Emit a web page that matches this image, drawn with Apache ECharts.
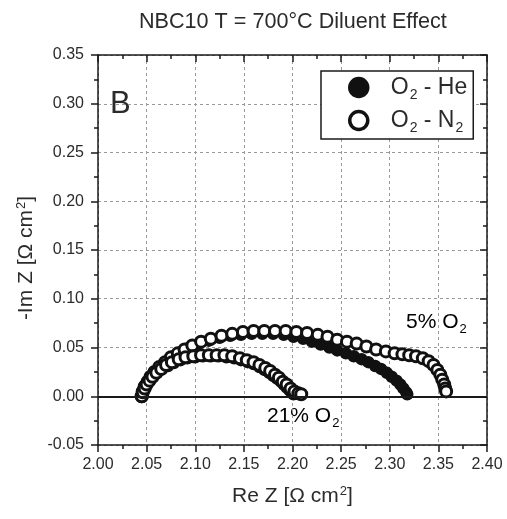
<!DOCTYPE html>
<html>
<head>
<meta charset="utf-8">
<script src="https://cdn.jsdelivr.net/npm/echarts@6/dist/echarts.min.js"></script>
<style>
  html, body { margin: 0; padding: 0; background: #fff; }
  #chart { width: 507px; height: 519px; }
</style>
</head>
<body>
<div id="chart"></div>
<script>
const FONT = '"Liberation Sans", Arial, Helvetica, sans-serif';
const INK = '#1a1a1a';
const TEXT = '#2b2b2b';

// Axis ranges (Ω cm²)
const reRange = { min: 2.0, max: 2.4, step: 0.05 };
const imRange = { min: -0.05, max: 0.35, step: 0.05 };

// Nyquist arcs, NBC10 at 700 °C: real part and negative imaginary part
// O2 diluted in He, 5% O2
const reHe5 = [2.045, 2.046, 2.048, 2.051, 2.055, 2.059, 2.064, 2.070, 2.077, 2.085,
  2.094, 2.104, 2.114, 2.125, 2.136, 2.147, 2.158, 2.169, 2.180, 2.191,
  2.201, 2.211, 2.220, 2.229, 2.238, 2.246, 2.255, 2.263, 2.271, 2.278,
  2.285, 2.291, 2.297, 2.302, 2.307, 2.311, 2.314, 2.317, 2.318];
const imHe5 = [0.000, 0.005, 0.010, 0.015, 0.020, 0.025, 0.030, 0.035, 0.040, 0.045,
  0.050, 0.054, 0.057, 0.060, 0.062, 0.063, 0.064, 0.064, 0.064, 0.063,
  0.061, 0.059, 0.056, 0.053, 0.050, 0.047, 0.044, 0.041, 0.038, 0.035,
  0.031, 0.028, 0.024, 0.020, 0.016, 0.012, 0.008, 0.004, 0.002];

// O2 diluted in He, 21% O2
const reHe21 = [2.045, 2.046, 2.048, 2.050, 2.053, 2.057, 2.061, 2.066, 2.072, 2.078,
  2.085, 2.092, 2.100, 2.108, 2.116, 2.124, 2.132, 2.140, 2.147, 2.154,
  2.160, 2.166, 2.171, 2.176, 2.180, 2.184, 2.188, 2.191, 2.194, 2.197,
  2.199, 2.201];
const imHe21 = [0.000, 0.004, 0.008, 0.012, 0.016, 0.020, 0.024, 0.028, 0.031, 0.034,
  0.037, 0.039, 0.040, 0.041, 0.041, 0.041, 0.040, 0.039, 0.037, 0.035,
  0.033, 0.030, 0.027, 0.024, 0.021, 0.018, 0.015, 0.012, 0.009, 0.006,
  0.004, 0.002];

// O2 diluted in N2, 5% O2
const reN5 = [2.045, 2.046, 2.048, 2.051, 2.054, 2.058, 2.063, 2.069, 2.075, 2.082,
  2.089, 2.097, 2.106, 2.116, 2.127, 2.138, 2.149, 2.160, 2.171, 2.182,
  2.193, 2.204, 2.215, 2.226, 2.236, 2.246, 2.256, 2.266, 2.276, 2.286,
  2.296, 2.305, 2.313, 2.320, 2.327, 2.334, 2.340, 2.345, 2.349, 2.352,
  2.354, 2.356, 2.357, 2.358];
const imN5 = [0.000, 0.005, 0.010, 0.015, 0.020, 0.025, 0.030, 0.035, 0.040, 0.044,
  0.048, 0.052, 0.056, 0.059, 0.062, 0.064, 0.066, 0.067, 0.067, 0.067,
  0.067, 0.066, 0.065, 0.063, 0.061, 0.058, 0.056, 0.054, 0.051, 0.048,
  0.046, 0.044, 0.043, 0.042, 0.041, 0.039, 0.036, 0.032, 0.027, 0.022,
  0.017, 0.012, 0.008, 0.005];

// O2 diluted in N2, 21% O2
const reN21 = [2.045, 2.046, 2.048, 2.050, 2.053, 2.056, 2.060, 2.065, 2.070, 2.076,
  2.083, 2.090, 2.098, 2.106, 2.114, 2.122, 2.130, 2.138, 2.146, 2.153,
  2.160, 2.166, 2.172, 2.177, 2.182, 2.186, 2.190, 2.194, 2.198, 2.202,
  2.206, 2.209];
const imN21 = [0.000, 0.004, 0.008, 0.012, 0.016, 0.020, 0.024, 0.028, 0.032, 0.035,
  0.038, 0.040, 0.041, 0.042, 0.042, 0.042, 0.042, 0.041, 0.039, 0.037,
  0.035, 0.032, 0.029, 0.026, 0.022, 0.019, 0.015, 0.012, 0.008, 0.005,
  0.003, 0.002];

const NAME_HE = 'O2 - He';
const NAME_N2 = 'O2 - N2';

const pairs = (xs, ys) => xs.map((x, i) => [x, ys[i]]);

const filledStyle = { color: '#111', borderColor: '#111', borderWidth: 1.5, opacity: 1 };
const openStyle = { color: '#fff', borderColor: '#111', borderWidth: 3, opacity: 1 };

const mainStyle = { fontSize: 21, fontFamily: FONT, color: TEXT };
const subStyle = { fontSize: 13, fontFamily: FONT, color: TEXT, padding: [14, 0, 0, 1] };
const supStyle = { fontSize: 13, fontFamily: FONT, color: TEXT, padding: [0, 0, 9, 1] };
const legMain = { fontSize: 23, fontFamily: FONT, color: TEXT };
const legSub = { fontSize: 14, fontFamily: FONT, color: TEXT, padding: [15, 0, 0, 1] };
const legGap = { width: 18, fontSize: 10 };

const fmt2 = v => v.toFixed(2);

function scatter(name, xs, ys, style, extra) {
  return Object.assign({
    name: name,
    type: 'scatter',
    xAxisIndex: 0,
    yAxisIndex: 0,
    symbol: 'circle',
    symbolSize: 11,
    itemStyle: style,
    emphasis: { disabled: true },
    data: pairs(xs, ys)
  }, extra || {});
}

const axisLineStyle = { color: INK, width: 1.5 };

function baseAxis(range, extra) {
  return Object.assign({
    type: 'value',
    min: range.min,
    max: range.max,
    interval: range.step,
    axisLine: { show: true, onZero: false, lineStyle: axisLineStyle },
    axisTick: { show: true, inside: false, length: 7, lineStyle: axisLineStyle },
    minorTick: { show: true, splitNumber: 2, length: 4, lineStyle: axisLineStyle },
    minorSplitLine: { show: false }
  }, extra);
}

const chart = echarts.init(document.getElementById('chart'), null, { renderer: 'canvas' });

chart.setOption({
  animation: false,
  backgroundColor: '#fff',
  title: {
    text: 'NBC10 T = 700°C Diluent Effect',
    left: 134,
    top: 6,
    textStyle: { fontSize: 21.6, fontWeight: 'normal', color: TEXT, fontFamily: FONT }
  },
  grid: { left: 98, right: 20, top: 55, bottom: 74, containLabel: false },
  xAxis: [
    baseAxis(reRange, {
      position: 'bottom',
      name: 'Re Z [Ω cm{sup|2}]',
      nameLocation: 'middle',
      nameGap: 40,
      nameTextStyle: Object.assign({}, mainStyle, { rich: { sup: supStyle } }),
      axisLabel: { formatter: fmt2, fontSize: 16, color: TEXT, fontFamily: FONT, margin: 12 },
      splitLine: { show: true, lineStyle: { type: [3, 3], color: '#9a9a9a', width: 1 } }
    }),
    baseAxis(reRange, {
      position: 'top',
      axisTick: { show: true, inside: true, length: 7, lineStyle: axisLineStyle },
      minorTick: { show: true, splitNumber: 2, length: 4, lineStyle: axisLineStyle },
      axisLabel: { show: false },
      splitLine: { show: false }
    })
  ],
  yAxis: [
    baseAxis(imRange, {
      position: 'left',
      name: '-Im Z [Ω cm{sup|2}]',
      nameLocation: 'middle',
      nameGap: 56,
      nameTextStyle: Object.assign({}, mainStyle, { rich: { sup: supStyle }, padding: [0, 16, 0, 0] }),
      axisLabel: { formatter: fmt2, fontSize: 16, color: TEXT, fontFamily: FONT, margin: 14 },
      splitLine: { show: true, lineStyle: { type: [3, 3], color: '#9a9a9a', width: 1 } }
    }),
    baseAxis(imRange, {
      position: 'right',
      axisTick: { show: true, inside: true, length: 7, lineStyle: axisLineStyle },
      minorTick: { show: true, splitNumber: 2, length: 4, lineStyle: axisLineStyle },
      axisLabel: { show: false },
      splitLine: { show: false }
    })
  ],
  legend: {
    orient: 'vertical',
    left: 321,
    top: 71,
    padding: [5, 6, 4, 27],
    itemGap: 7,
    itemWidth: 18,
    itemHeight: 18,
    borderColor: INK,
    borderWidth: 1.5,
    backgroundColor: '#fff',
    selectedMode: false,
    data: [
      { name: NAME_HE, icon: 'circle', itemStyle: { color: '#111', borderColor: '#111', borderWidth: 3.5, opacity: 1 } },
      { name: NAME_N2, icon: 'circle', itemStyle: { color: '#fff', borderColor: '#111', borderWidth: 3.5, opacity: 1 } }
    ],
    formatter: name => name === NAME_HE
      ? '{g| }{t|O}{s|2}{t| - He}'
      : '{g| }{t|O}{s|2}{t| - N}{s|2}',
    textStyle: {
      fontSize: 23, fontFamily: FONT, color: TEXT,
      rich: { t: legMain, s: legSub, g: legGap }
    }
  },
  graphic: [
    {
      type: 'text', left: 110, top: 89, silent: true,
      style: { text: 'B', font: '31px ' + FONT, fill: TEXT }
    },
    {
      type: 'text', left: 406, top: 312, silent: true,
      style: { text: '{t|5% O}{s|2}', rich: { t: mainStyle, s: subStyle } }
    },
    {
      type: 'text', left: 267, top: 406, silent: true,
      style: { text: '{t|21% O}{s|2}', rich: { t: mainStyle, s: subStyle } }
    }
  ],
  series: [
    scatter(NAME_HE, reHe5, imHe5, filledStyle, {
      markLine: {
        silent: true,
        symbol: 'none',
        label: { show: false },
        lineStyle: { color: INK, type: 'solid', width: 2 },
        data: [{ yAxis: 0 }]
      }
    }),
    scatter(NAME_HE, reHe21, imHe21, filledStyle),
    scatter(NAME_N2, reN5, imN5, openStyle),
    scatter(NAME_N2, reN21, imN21, openStyle)
  ]
});
</script>
</body>
</html>
